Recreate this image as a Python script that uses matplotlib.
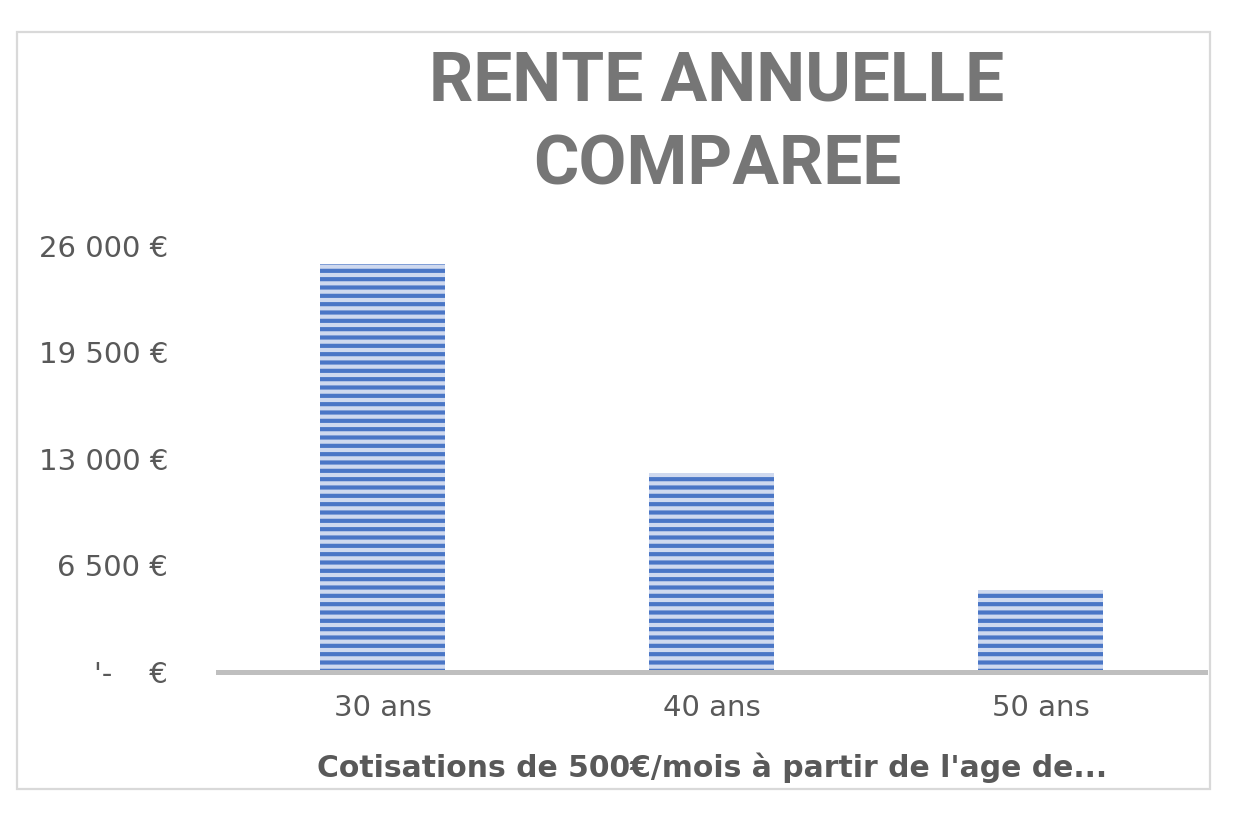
import matplotlib.pyplot as plt
from matplotlib.patches import Rectangle

# Data
categories = ["30 ans", "40 ans", "50 ans"]
rente = [24900, 12150, 5000]
y_ticks = [0, 6500, 13000, 19500, 26000]

def euro_label(v):
    if v == 0:
        return "'-    €"
    return f"{v:,.0f}".replace(",", " ") + " €"

plt.rcParams["hatch.linewidth"] = 3.0

fig = plt.figure(figsize=(12.36, 8.16), dpi=100, facecolor="white")

# Chart frame
fig.patches.append(Rectangle((17 / 1236, 1 - 789 / 816), 1193 / 1236, 757 / 816,
                             transform=fig.transFigure, fill=False,
                             edgecolor="#d9d9d9", linewidth=1.6))

ax = fig.add_axes([218 / 1236, 1 - 672 / 816, (1205 - 218) / 1236, (672 - 246) / 816])

x = range(len(categories))
ax.bar(x, rente, width=0.38, color="#cfd9ef", edgecolor="#4a76c6", linewidth=0,
       hatch="--", zorder=2)

ax.set_xlim(-0.5, len(categories) - 0.5)
ax.set_ylim(0, 26000)
ax.set_yticks(y_ticks)
ax.set_yticklabels([euro_label(v) for v in y_ticks])
ax.set_xticks(list(x))
ax.set_xticklabels(categories)

for s in ["top", "right", "left"]:
    ax.spines[s].set_visible(False)
ax.spines["bottom"].set_color("#bfbfbf")
ax.spines["bottom"].set_linewidth(3.6)
ax.spines["bottom"].set_zorder(3)

ax.tick_params(axis="y", length=0, pad=36, labelsize=21, labelcolor="#595959")
ax.tick_params(axis="x", length=0, pad=16, labelsize=21, labelcolor="#595959")

# Title and axis title
fig.text(717 / 1236, 1 - 124 / 816, "RENTE ANNUELLE\nCOMPAREE", ha="center", va="center",
         fontsize=50, fontweight="bold", color="#767676", linespacing=1.36,
         family="Roboto")
fig.text(712 / 1236, 1 - 768 / 816, "Cotisations de 500€/mois à partir de l'age de...",
         ha="center", va="center", fontsize=21.5, fontweight="bold", color="#595959")

fig.savefig("out.png", dpi=100, facecolor="white")
